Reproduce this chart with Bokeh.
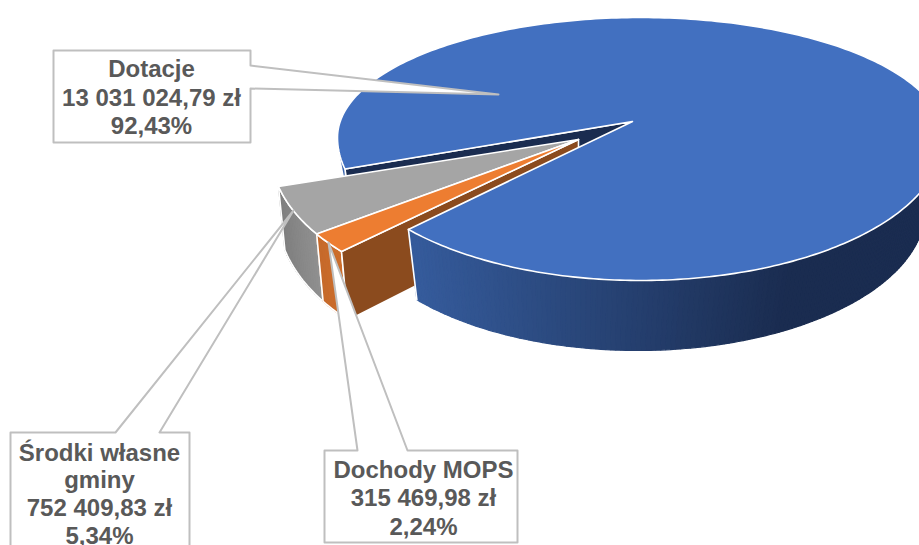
import math
from bokeh.plotting import figure
from bokeh.models import Range1d
from bokeh.embed import file_html
from bokeh.resources import INLINE
from bokeh.core.properties import value as bv

# ---- data ----
categories = ["Dochody MOPS", "Środki własne gminy", "Dotacje"]
values = [315469.98, 752409.83, 13031024.79]
amount_labels = ["315 469,98 zł", "752 409,83 zł", "13 031 024,79 zł"]
percent_labels = ["2,24%", "5,34%", "92,43%"]

# ---- layout ----
W, H = 919, 545
ROT = 140.0
FONT = "Liberation Sans"
TXT = "#595959"
BORDER = "#BFBFBF"

BLUE_TOP = dict(cx=640, cy=137, rx=303, ry=143, ryf=120)
BLUE_BOT = dict(cx=637, cy=208, rx=288, ry=142, ryf=142)
BLUE_APEX = (632, 121)
BLUE_APEX_B = (632, 191)
SL_TOP = dict(cx=571.6, cy=152, rx=301, ry=154, ryf=154)
SL_BOT = dict(cx=578, cy=213, rx=301, ry=166, ryf=166)
SL_APEX = (578, 139)
SL_APEX_B = (578, 203)

total = sum(values)
sweeps = [v / total * 360 for v in values]
a0 = ROT
a1 = a0 + sweeps[0]
a2 = a1 + sweeps[1]
a3 = a2 + sweeps[2]


def pt(e, deg):
    r = math.radians(deg)
    s = math.sin(r)
    return e["cx"] + e["rx"] * math.cos(r), e["cy"] + (e["ry"] if s >= 0 else e["ryf"]) * s


def arc(e, d0, d1, step=1.0):
    n = max(2, int(abs(d1 - d0) / step) + 1)
    return [pt(e, d0 + (d1 - d0) * i / (n - 1)) for i in range(n)]


def mix(c0, c1, t):
    t = max(0.0, min(1.0, t))
    return "#%02x%02x%02x" % tuple(round(a + (b - a) * t) for a, b in zip(c0, c1))


p = figure(width=W, height=H, x_range=Range1d(0, W), y_range=Range1d(H, 0),
           output_backend="svg", toolbar_location=None, min_border=0,
           background_fill_color="white",
           border_fill_color="white", outline_line_color=None)
p.axis.visible = False
p.grid.visible = False


def poly(points, fill=None, line=None, lw=1.6):
    p.patch([q[0] for q in points], [q[1] for q in points],
            fill_color=fill if fill else None, line_color=line if line else None,
            line_width=lw, line_join="round")


def wall(top, bot, d0, d1, colorf, outline=True):
    step = 1.0
    n = int(abs(d1 - d0) / step) + 1
    xs, ys, cs = [], [], []
    for i in range(n):
        u0 = d0 + (d1 - d0) * i / n
        u1 = d0 + (d1 - d0) * (i + 1) / n
        a, b = pt(top, u0), pt(top, u1)
        c, d = pt(bot, u1), pt(bot, u0)
        xs.append([a[0], b[0], c[0], d[0]])
        ys.append([a[1], b[1], c[1], d[1]])
        cs.append(colorf((a[0] + b[0]) / 2))
    p.patches(xs, ys, fill_color=cs, line_color=cs, line_width=1.2)
    if outline:
        poly(arc(top, d0, d1) + arc(bot, d1, d0), None, "white", 1.6)


# blue slice inner wall facing viewer (navy) and thin outer sliver at the left
rim_t = pt(BLUE_TOP, a2)
rim_b = pt(BLUE_BOT, a2)
poly(arc(BLUE_TOP, a2, a2 + 7) + [(rim_t[0] - 0.5, rim_t[1] + 10)], "#3A64AC", None)
poly([BLUE_APEX, rim_t, rim_b, BLUE_APEX_B], "#1A2C50", "white")

# outer wall of grey and orange slices
wall(SL_TOP, SL_BOT, a2, a1, lambda x: mix((127, 127, 127), (146, 146, 146), (x - 280) / 40))
wall(SL_TOP, SL_BOT, a1, a0, lambda x: mix((196, 104, 42), (204, 110, 44), (x - 312) / 28))

# orange inner wall (brown)
poly([SL_APEX, pt(SL_TOP, a0), pt(SL_BOT, a0), SL_APEX_B], "#8B4B1E", "white")

# grey and orange tops
poly([SL_APEX] + arc(SL_TOP, a1, a2), "#A5A5A5", "white")
poly([SL_APEX] + arc(SL_TOP, a0, a1), "#ED7D31", "white")

# blue outer wall with horizontal shading
wall(BLUE_TOP, BLUE_BOT, a3 - 360, -5,
     lambda x: mix((53, 91, 155), (26, 44, 80), (x - 415) / (790 - 415)), outline=False)
poly([pt(BLUE_TOP, a3 - 360), pt(BLUE_BOT, a3 - 360)], None, "white")

# blue top
poly([BLUE_APEX] + arc(BLUE_TOP, a2, a3), "#4270C0", "white")

# callouts
callouts = [
    [(53, 50), (250, 50), (250, 65), (498, 94), (250, 88), (250, 142), (53, 142)],
    [(10, 432), (115, 432), (293, 210), (159, 432), (189, 432), (189, 570), (10, 570)],
    [(324, 450), (357, 450), (328, 242), (407, 450), (517, 450), (517, 542), (324, 542)],
]
for c in callouts:
    poly(c, "white", BORDER, 2)

label_lines = [
    ([categories[2], amount_labels[2], percent_labels[2]], 151, [68, 97, 125]),
    (["Środki własne", "gminy", amount_labels[1], percent_labels[1]], 99, [452, 479, 507, 535]),
    ([categories[0], amount_labels[0], percent_labels[0]], 423, [469, 497, 526]),
]
for lines, x, ys_ in label_lines:
    p.text([x] * len(lines), ys_, text=lines, text_font=bv(FONT), text_font_style="bold",
           text_font_size="24px", text_color=TXT, text_align="center", text_baseline="middle")

open("out.html", "w").write(file_html(p, INLINE))
